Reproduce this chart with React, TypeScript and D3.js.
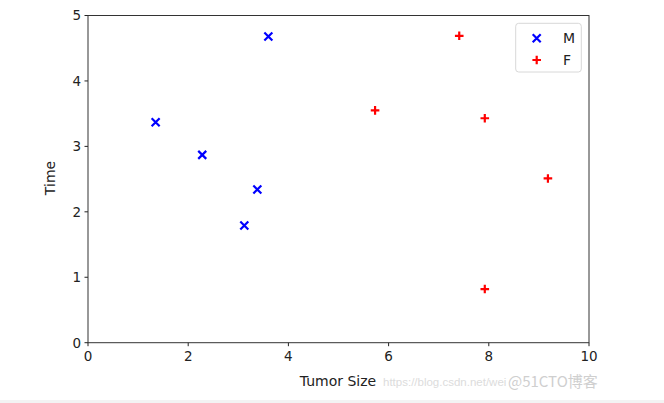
import React from "react";
import * as d3 from "d3";

const maleX = [1.35, 2.28, 3.38, 3.6, 3.12];
const maleY = [3.37, 2.87, 2.34, 4.68, 1.79];
const femaleX = [7.41, 5.73, 7.92, 9.18, 7.92];
const femaleY = [4.69, 3.55, 3.43, 2.51, 0.82];
const xTicks = [0, 2, 4, 6, 8, 10];
const yTicks = [0, 1, 2, 3, 4, 5];
const seriesNames = ["M", "F"];

const W = 664, H = 403;
const L = 88, R = 589, T = 15.5, B = 342.7;
const FONT = "DejaVu Sans, sans-serif";

function XMark({ cx, cy, s = 4, color }: { cx: number; cy: number; s?: number; color: string }) {
  return (
    <path d={`M${cx - s},${cy - s}L${cx + s},${cy + s}M${cx - s},${cy + s}L${cx + s},${cy - s}`}
      stroke={color} strokeWidth={2.2} fill="none" />
  );
}
function PlusMark({ cx, cy, s = 4.3, color }: { cx: number; cy: number; s?: number; color: string }) {
  return (
    <path d={`M${cx - s},${cy}L${cx + s},${cy}M${cx},${cy - s}L${cx},${cy + s}`}
      stroke={color} strokeWidth={2.2} fill="none" />
  );
}

export default function App() {
  const x = d3.scaleLinear().domain([0, 10]).range([L, R]);
  const y = d3.scaleLinear().domain([0, 5]).range([B, T]);
  return (
    <svg width={W} height={H} style={{ position: "absolute", left: 0, top: 0, background: "#fff" }}
      fontFamily={FONT}>
      <rect x={0} y={0} width={W} height={H} fill="#fff" />
      <rect x={0} y={400} width={W} height={3} fill="#f3f3f3" />
      {xTicks.map((t) => (
        <g key={"x" + t}>
          <line x1={x(t)} x2={x(t)} y1={B} y2={B + 3.5} stroke="#222" strokeWidth={1} />
          <text x={x(t)} y={B + 18} textAnchor="middle" fontSize={13.5} fill="#222">{t}</text>
        </g>
      ))}
      {yTicks.map((t) => (
        <g key={"y" + t}>
          <line x1={L - 3.5} x2={L} y1={y(t)} y2={y(t)} stroke="#222" strokeWidth={1} />
          <text x={L - 7} y={y(t)} dy="0.36em" textAnchor="end" fontSize={13.5} fill="#222">{t}</text>
        </g>
      ))}
      <rect x={L} y={T} width={R - L} height={B - T} fill="none" stroke="#333" strokeWidth={1} />
      {maleX.map((v, i) => (
        <XMark key={"m" + i} cx={x(v)} cy={y(maleY[i])} color="#0000ff" />
      ))}
      {femaleX.map((v, i) => (
        <PlusMark key={"f" + i} cx={x(v)} cy={y(femaleY[i])} color="#ff0000" />
      ))}
      <rect x={515.7} y={23.3} width={65.6} height={48.7} rx={3} fill="#fff" stroke="#d8d8d8" strokeWidth={1} />
      <XMark cx={536.7} cy={38.3} color="#0000ff" />
      <PlusMark cx={536.7} cy={60} color="#ff0000" />
      <text x={563} y={38.3} dy="0.36em" fontSize={14} fill="#222">{seriesNames[0]}</text>
      <text x={563} y={60} dy="0.36em" fontSize={14} fill="#222">{seriesNames[1]}</text>
      <text x={338} y={381} dy="0.36em" textAnchor="middle" fontSize={14} fill="#222">Tumor Size</text>
      <text transform="translate(50,178) rotate(-90)" dy="0.36em" textAnchor="middle" fontSize={14} fill="#222">Time</text>
      <text x={383} y={382} dy="0.36em" fontSize={11.5} fill="#dcdcdc"
        fontFamily="Liberation Sans, Arial, sans-serif">https://blog.csdn.net/wei</text>
      <text x={508} y={382} dy="0.36em" fontSize={15} fill="#cfcfcf"
        fontFamily="Noto Sans CJK SC, sans-serif">@51CTO博客</text>
    </svg>
  );
}
